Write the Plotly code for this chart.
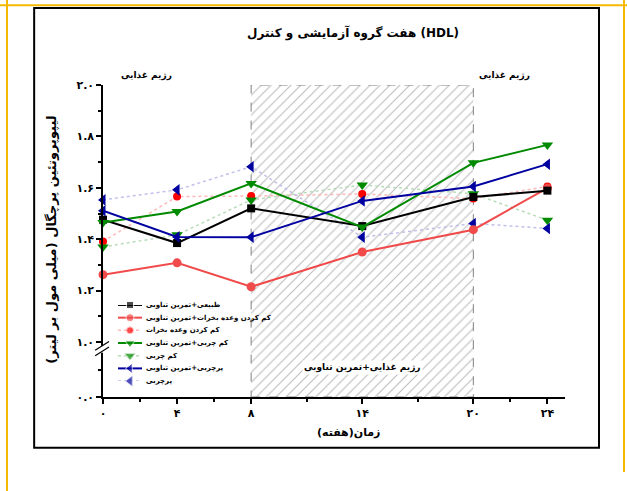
import plotly.graph_objects as go

# ---------------- data ----------------
weeks = [0, 4, 8, 14, 20, 24]
normal_hiit = [1.476, 1.385, 1.520, 1.451, 1.564, 1.589]
cr_hiit = [1.262, 1.308, 1.215, 1.350, 1.437, 1.599]
cr_only = [1.391, 1.566, 1.568, 1.576, 1.558, 1.605]
lf_hiit = [1.465, 1.508, 1.617, 1.447, 1.697, 1.767]
lf_only = [1.370, 1.417, 1.553, 1.611, 1.577, 1.474]
hf_hiit = [1.511, 1.409, 1.408, 1.549, 1.605, 1.692]
hf_only = [1.553, 1.592, 1.682, 1.408, 1.461, 1.442]

names = [
    "طبیعی+تمرین تناوبی",
    "کم کردن وعده بخرات+تمرین تناوبی",
    "کم کردن وعده بخرات",
    "کم چربی+تمرین تناوبی",
    "کم چربی",
    "پرچربی+تمرین تناوبی",
    "پرچربی",
]
values = [normal_hiit, cr_hiit, cr_only, lf_hiit, lf_only, hf_hiit, hf_only]

x_ticks = [0, 4, 8, 14, 20, 24]
x_tick_text = ["۰", "۴", "۸", "۱۴", "۲۰", "۲۴"]
y_zero_pos = 0.786  # display position of 0.0 below the axis break
y_ticks = [y_zero_pos, 1.0, 1.2, 1.4, 1.6, 1.8, 2.0]
y_tick_text = ["۰.۰", "۱.۰", "۱.۲", "۱.۴", "۱.۶", "۱.۸", "۲.۰"]
y_top = 2.0
training_start, training_end = 8, 20

title_text = "هفت گروه آزمایشی و کنترل (HDL)"
diet_text = "رژیم غذایی"
diet_train_text = "رژیم غذایی+تمرین تناوبی"
x_title = "زمان(هفته)"
y_title = "لیپوپروتئین پرچگال (میلی مول بر لیتر)"

# ---------------- styles ----------------
FONT = "DejaVu Sans"
styles = [
    dict(lc="#000000", dash="solid", lw=2, mc="#000000", sym="square", ms=8),
    dict(lc="#f04a4a", dash="solid", lw=2, mc="#f04a4a", sym="circle", ms=9),
    dict(lc="#ffb8b8", dash="dot", lw=1.5, mc="#ff0000", sym="circle", ms=8),
    dict(lc="#008a00", dash="solid", lw=2, mc="#008a00", sym="triangle-down", ms=10),
    dict(lc="#b8dcb8", dash="dot", lw=1.5, mc="#008a00", sym="triangle-down", ms=10),
    dict(lc="#0000a0", dash="solid", lw=2, mc="#0000a0", sym="triangle-left", ms=10),
    dict(lc="#c0c0ea", dash="dot", lw=1.5, mc="#0000a0", sym="triangle-left", ms=10),
]

fig = go.Figure()

# hatched training period
fig.add_trace(go.Scatter(
    x=[training_start, training_end, training_end, training_start, training_start],
    y=[y_zero_pos, y_zero_pos, y_top, y_top, y_zero_pos],
    mode="lines", fill="toself",
    fillpattern=dict(shape="/", fgcolor="#7a7a7a", bgcolor="white", size=7, solidity=0.16),
    line=dict(color="#808080", width=1, dash="dash"),
    hoverinfo="skip", showlegend=False,
))

# draw order: dotted first, then solid
order = [2, 4, 6, 1, 0, 3, 5]
for i in order:
    st = styles[i]
    fig.add_trace(go.Scatter(
        x=weeks, y=values[i], name=names[i], mode="lines+markers",
        line=dict(color=st["lc"], width=st["lw"], dash=st["dash"]),
        marker=dict(color=st["mc"], symbol=st["sym"], size=st["ms"]),
        cliponaxis=False, showlegend=False,
    ))

# manual compact legend on its own small axes
for i, st in enumerate(styles):
    fig.add_trace(go.Scatter(
        x=[0, 0.5, 1], y=[i, i, i], mode="lines+markers",
        line=dict(color=st["lc"], width=st["lw"], dash=st["dash"]),
        marker=dict(color=st["mc"], symbol=st["sym"], size=[0, st["ms"] - 1, 0]),
        xaxis="x2", yaxis="y2", cliponaxis=False, showlegend=False, hoverinfo="skip",
    ))
    fig.add_annotation(x=0.088, xref="paper", y=i, yref="y2", text=names[i],
                       showarrow=False, xanchor="left", yanchor="middle",
                       font=dict(family=FONT, size=7, color="black", weight="bold"))

minor_x = [(a + b) / 2 for a, b in zip(x_ticks[:-1], x_ticks[1:])]
minor_y = [(a + b) / 2 for a, b in zip(y_ticks[:-1], y_ticks[1:])]

axis_font = dict(family=FONT, size=11, color="black", weight="bold")
fig.update_layout(
    width=627, height=491,
    margin=dict(l=103, r=62, t=85, b=94),
    paper_bgcolor="white", plot_bgcolor="white",
    showlegend=False,
    xaxis=dict(range=[0, 24.95], tickmode="array", tickvals=x_ticks, ticktext=x_tick_text,
               ticks="outside", ticklen=5, tickwidth=1.5, tickcolor="black",
               showline=True, linecolor="black", linewidth=1.5,
               showgrid=False, zeroline=False, tickfont=axis_font,
               minor=dict(tickmode="array", tickvals=minor_x, ticks="outside",
                          ticklen=3, tickcolor="black", showgrid=False)),
    yaxis=dict(range=[y_zero_pos, y_top], tickmode="array", tickvals=y_ticks, ticktext=y_tick_text,
               ticks="outside", ticklen=5, tickwidth=1.5, tickcolor="black",
               showline=True, linecolor="black", linewidth=1.5,
               showgrid=False, zeroline=False, tickfont=axis_font,
               minor=dict(tickmode="array", tickvals=minor_y, ticks="outside",
                          ticklen=3, tickcolor="black", showgrid=False)),
    xaxis2=dict(domain=[0.0325, 0.0844], range=[0, 1], visible=False, anchor="y2"),
    yaxis2=dict(domain=[0.051, 0.295], range=[6, 0], visible=False, anchor="x2"),
)

bold = lambda s: dict(family=FONT, size=s, color="black", weight="bold")
def note(x, y, text, size, xref="paper", yref="paper", **kw):
    fig.add_annotation(x=x, y=y, xref=xref, yref=yref, text=text, showarrow=False,
                       xanchor="center", yanchor="middle", font=bold(size), **kw)

note(0.542, 1.167, title_text, 12)
note(0.095, 1.029, diet_text, 9)
note(0.870, 1.029, diet_text, 9)
note((training_start + training_end) / 2, 0.093, diet_train_text, 9, xref="x", bgcolor="white")
note(0.532, -0.115, x_title, 11)
note(-0.112, 0.505, y_title, 13, textangle=-90)

# outer frame and page borders
fig.add_shape(type="rect", xref="paper", yref="paper", x0=-0.149, x1=1.0736, y0=-0.163, y1=1.2468,
              line=dict(color="black", width=2))
yellow = "#f5b800"
fig.add_shape(type="line", xref="paper", yref="paper", x0=-0.23, x1=1.14, y0=1.256, y1=1.256,
              line=dict(color=yellow, width=2))
fig.add_shape(type="line", xref="paper", yref="paper", x0=-0.2078, x1=-0.2078, y0=1.28, y1=-0.31,
              line=dict(color=yellow, width=2))
fig.add_shape(type="line", xref="paper", yref="paper", x0=1.1277, x1=1.1277, y0=1.28, y1=-0.240,
              line=dict(color=yellow, width=2))

# axis break marks
fig.add_shape(type="rect", xref="paper", yref="paper", x0=-0.006, x1=0.006, y0=0.142, y1=0.164,
              line=dict(width=0), fillcolor="white")
for dy in (0.0, 0.018):
    fig.add_shape(type="line", xref="paper", yref="paper", x0=-0.017, x1=0.013,
                  y0=0.132 + dy, y1=0.160 + dy, line=dict(color="black", width=1.2))

fig.write_html("out.html", config={"displayModeBar": False},
               post_script="document.body.style.margin='0px';")
